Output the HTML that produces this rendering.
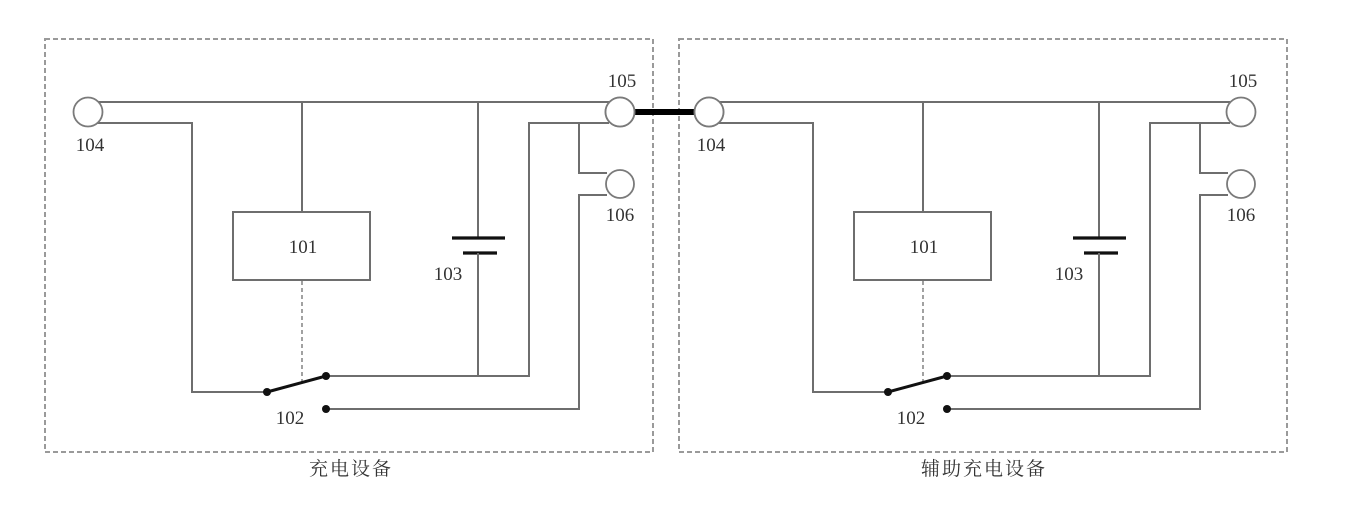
<!DOCTYPE html>
<html>
<head>
<meta charset="utf-8">
<style>
html,body{margin:0;padding:0;background:#fff;}
svg{display:block;}
.w{stroke:#6e6e6e;stroke-width:2;fill:none;}
.c{stroke:#7a7a7a;stroke-width:1.8;fill:#fff;}
.d{stroke:#9a9a9a;stroke-width:2;fill:none;stroke-dasharray:5 3;}
.dv{stroke:#8a8a8a;stroke-width:1.6;fill:none;stroke-dasharray:4 3;}
.b{stroke:#111;stroke-width:3.2;}
.t{font-family:"Liberation Serif",serif;font-size:19px;fill:#333;text-anchor:middle;}
.z{font-family:"Liberation Sans","Noto Serif CJK SC","Noto Sans CJK SC",sans-serif;font-size:19px;fill:#333;text-anchor:middle;letter-spacing:2px;}
</style>
</head>
<body>
<svg width="1372" height="531" viewBox="0 0 1372 531" xmlns="http://www.w3.org/2000/svg">
<!-- boxes -->
<rect class="d" x="45" y="39" width="608" height="413"/>
<rect class="d" x="679" y="39" width="608" height="413"/>

<!-- thick connector -->
<line x1="632" y1="112" x2="697" y2="112" stroke="#000" stroke-width="6"/>

<g id="m">
<!-- top wire -->
<line class="w" x1="98" y1="102" x2="609" y2="102"/>
<!-- second wire from 104 -->
<polyline class="w" points="97,123 192,123 192,392 267,392"/>
<!-- to box -->
<line class="w" x1="302" y1="102" x2="302" y2="212"/>
<rect class="w" x="233" y="212" width="137" height="68"/>
<line class="dv" x1="302" y1="281" x2="302" y2="383"/>
<!-- battery -->
<line class="w" x1="478" y1="102" x2="478" y2="238"/>
<line class="b" x1="452" y1="238" x2="505" y2="238"/>
<line class="b" x1="463" y1="253" x2="497" y2="253"/>
<line class="w" x1="478" y1="253" x2="478" y2="376"/>
<!-- switch upper contact wire -->
<polyline class="w" points="326,376 529,376 529,123 609,123"/>
<!-- branch to 106 -->
<polyline class="w" points="579,123 579,173 607,173"/>
<polyline class="w" points="607,195 579,195 579,409 326,409"/>
<!-- switch -->
<line x1="267" y1="392" x2="326" y2="376" stroke="#111" stroke-width="3"/>
<circle cx="267" cy="392" r="4" fill="#111"/>
<circle cx="326" cy="376" r="4" fill="#111"/>
<circle cx="326" cy="409" r="4" fill="#111"/>
<!-- terminals -->
<circle class="c" cx="88" cy="112" r="14.5"/>
<circle class="c" cx="620" cy="112" r="14.5"/>
<circle class="c" cx="620" cy="184" r="14"/>
<!-- labels -->
<text class="t" x="90" y="151">104</text>
<text class="t" x="622" y="87">105</text>
<text class="t" x="620" y="221">106</text>
<text class="t" x="303" y="253">101</text>
<text class="t" x="448" y="280">103</text>
<text class="t" x="290" y="424">102</text>
</g>
<use href="#m" x="621" y="0"/>

<!-- redraw right circles on top of connector -->
<circle class="c" cx="620" cy="112" r="14.5"/>
<circle class="c" cx="709" cy="112" r="14.5"/>

<text class="z" x="351" y="475">充电设备</text>
<text class="z" x="984" y="475">辅助充电设备</text>
</svg>
</body>
</html>
